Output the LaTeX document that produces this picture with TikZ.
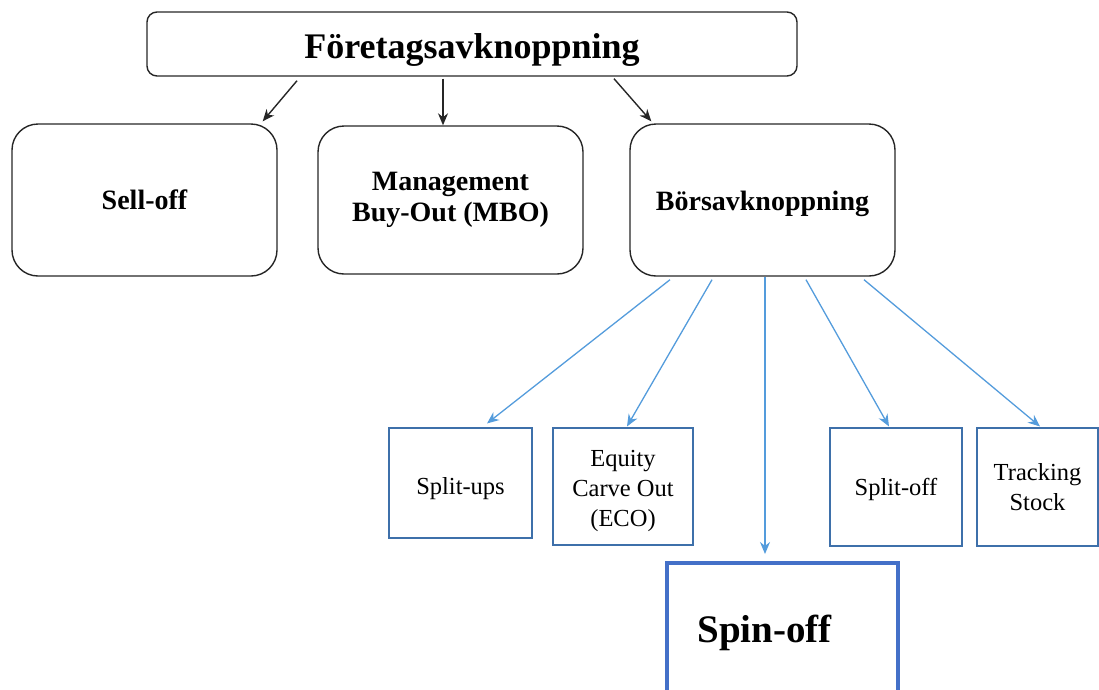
\documentclass[tikz,border=0pt]{standalone}
\usepackage{fontspec}
\setmainfont{Liberation Serif}
\usetikzlibrary{arrows.meta}
\definecolor{arrblue}{RGB}{84,156,220}
\definecolor{boxblue}{RGB}{62,112,170}
\definecolor{spinblue}{RGB}{68,112,200}
\newcommand{\lowerby}[2]{\raisebox{-#1}[\height][\depth]{#2}}
\begin{document}
\begin{tikzpicture}[x=1pt,y=-1pt,
  topbox/.style={draw=black!85,line width=1.4pt,rounded corners=10pt,inner sep=0pt,align=center,font=\fontsize{36}{40}\selectfont\bfseries},
  midbox/.style={draw=black!85,line width=1.4pt,rounded corners=26pt,inner sep=0pt,align=center,font=\fontsize{28}{31}\selectfont\bfseries},
  smallbox/.style={draw=boxblue,line width=1.1pt,inner sep=0pt,align=center,font=\fontsize{24.5}{30}\selectfont},
  spinbox/.style={draw=spinblue,line width=4pt,inner sep=0pt,align=center,font=\fontsize{39}{42}\selectfont\bfseries},
  blk/.style={draw=black!85,line width=1.4pt,-{Stealth[length=12pt,width=10pt]}},
  blu/.style={draw=arrblue,line width=1.3pt,-{Stealth[length=12pt,width=10pt]}}]
\useasboundingbox (0,0) rectangle (1099,689);
\node[topbox,minimum width=650,minimum height=64] (top) at (472,44) {\lowerby{6pt}{Företagsavknoppning}};
\node[midbox,minimum width=265,minimum height=152] (sell) at (144.5,200) {Sell-off};
\node[midbox,minimum width=265,minimum height=148] (mbo) at (450.5,200) {Management\\Buy-Out (MBO)};
\node[midbox,minimum width=265,minimum height=152] (bors) at (762.5,200) {\lowerby{4pt}{Börsavknoppning}};
\node[smallbox,minimum width=143,minimum height=110] (sups) at (460.5,483) {\lowerby{6pt}{Split-ups}};
\node[smallbox,minimum width=140,minimum height=117] (eco) at (623,486.5) {\lowerby{4pt}{\begin{tabular}{@{}c@{}}Equity\\Carve Out\\(ECO)\end{tabular}}};
\node[smallbox,minimum width=132,minimum height=118] (soff) at (896,487) {\lowerby{2pt}{Split-off}};
\node[smallbox,minimum width=121,minimum height=118] (track) at (1037.5,487) {Tracking\\Stock};
\node[spinbox,minimum width=231,minimum height=134] (spin) at (782.5,630) {\lowerby{3pt}{Spin-off}\hspace*{36pt}};
\draw[blk] ([xshift=-175pt,yshift=-4pt]top.south) -- ([xshift=-15pt,yshift=2pt]sell.north east);
\draw[blk] ([xshift=-29pt,yshift=-2pt]top.south) -- ([xshift=-7.5pt]mbo.north);
\draw[blk] ([xshift=142pt,yshift=-2pt]top.south) -- ([xshift=22pt,yshift=2pt]bors.north west);
\draw[blu] ([xshift=-92.5pt,yshift=-3pt]bors.south) -- ([xshift=26.5pt,yshift=4pt]sups.north);
\draw[blu] ([xshift=-50.5pt,yshift=-3pt]bors.south) -- ([xshift=4pt,yshift=1pt]eco.north);
\draw[blu] ([xshift=2.5pt]bors.south) -- ([xshift=-17.5pt,yshift=7pt]spin.north);
\draw[blu] ([xshift=43.5pt,yshift=-3pt]bors.south) -- ([xshift=-7pt,yshift=1pt]soff.north);
\draw[blu] ([xshift=101.5pt,yshift=-3pt]bors.south) -- ([xshift=2.5pt,yshift=1pt]track.north);
\end{tikzpicture}
\end{document}
